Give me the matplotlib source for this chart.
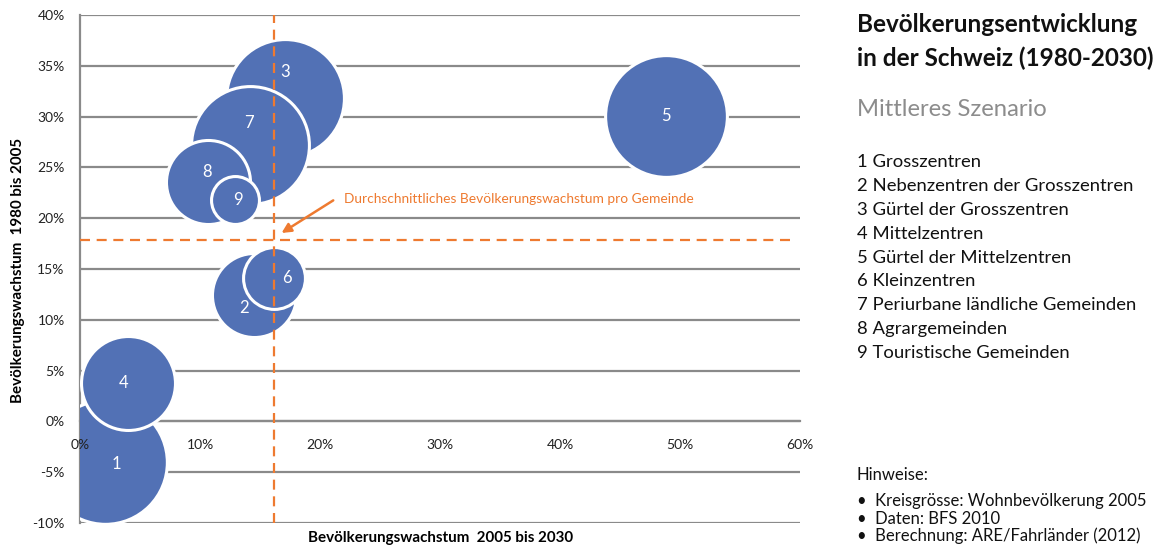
import numpy as np
import matplotlib
matplotlib.use('Agg')
import matplotlib.pyplot as plt
from matplotlib.ticker import FixedLocator, FuncFormatter

plt.rcParams['font.family'] = ['Lato', 'DejaVu Sans']

# Raumtypen (Nummer im Kreis) und Werte in Prozent
typ_nr = ['1', '2', '3', '4', '5', '6', '7', '8', '9']
typ_name = ['Grosszentren', 'Nebenzentren der Grosszentren', 'Gürtel der Grosszentren',
            'Mittelzentren', 'Gürtel der Mittelzentren', 'Kleinzentren',
            'Periurbane ländliche Gemeinden', 'Agrargemeinden', 'Touristische Gemeinden']
wachstum_2005_2030 = [2.1, 14.5, 17.1, 4.0, 48.8, 16.2, 14.2, 10.7, 12.9]
wachstum_1980_2005 = [-3.95, 12.4, 31.8, 3.8, 30.1, 14.1, 27.2, 23.6, 21.8]
# Wohnbevölkerung 2005 in Tausend (Kreisfläche)
bevoelkerung_2005 = [1300, 600, 1180, 750, 1260, 325, 1180, 600, 195]

# Durchschnitt pro Gemeinde
mittel_x = 16.15
mittel_y = 17.9

x_ticks = [0, 10, 20, 30, 40, 50, 60]
y_ticks = [-10, -5, 0, 5, 10, 15, 20, 25, 30, 35, 40]

# Verschiebung der Nummern relativ zur Kreismitte (Punkte)
label_offset = [(8, -2), (-7, -9), (0, 19), (-3, 0), (0, 0), (9, 0), (-1, 16), (-1, 7), (2, 0)]

BLAU = '#5271B5'
ORANGE = '#EE7A30'
GRAU = '#8A8A8A'

W, H = 1163, 549
fig = plt.figure(figsize=(W / 100, H / 100), dpi=100)
fig.patch.set_facecolor('white')
ax = fig.add_axes([80 / W, 1 - 523 / H, 720 / W, 508 / H])

ax.set_xlim(0, 60)
ax.set_ylim(-10, 40)

# Gitterlinien
for yv in y_ticks:
    ax.axhline(yv, color=GRAU, lw=1.6, zorder=1)

# Blasen
sizes = np.array(bevoelkerung_2005) * 6.1
for i in range(len(typ_nr)):
    ax.scatter(wachstum_2005_2030[i], wachstum_1980_2005[i], s=sizes[i],
               color=BLAU, edgecolors='white', linewidths=2.2, zorder=3 + i * 0.01)
    ax.annotate(typ_nr[i], (wachstum_2005_2030[i], wachstum_1980_2005[i]),
                xytext=label_offset[i], textcoords='offset points',
                ha='center', va='center', color='white', fontsize=12, zorder=4)

# Mittelwert-Linien
ax.axvline(mittel_x, color=ORANGE, lw=1.6, ls=(0, (4.5, 3)), zorder=5)
ax.axhline(mittel_y, color=ORANGE, lw=1.6, ls=(0, (4.5, 3)), xmax=0.993, zorder=5)

ax.annotate('', xy=(mittel_x + 0.45, mittel_y + 0.5), xytext=(21.3, 21.9),
            arrowprops=dict(arrowstyle='-|>', color=ORANGE, lw=1.8, mutation_scale=14),
            zorder=6)
ax.text(22.0, 21.9, 'Durchschnittliches Bevölkerungswachstum pro Gemeinde',
        color=ORANGE, fontsize=9.9, ha='left', va='center', zorder=6)

# Achsen
for side in ['top', 'right']:
    ax.spines[side].set_visible(False)
ax.spines['left'].set_color(GRAU)
ax.spines['left'].set_linewidth(1.6)
ax.spines['bottom'].set_position(('data', 0))
ax.spines['bottom'].set_color(GRAU)
ax.spines['bottom'].set_linewidth(1.6)

pct = FuncFormatter(lambda v, p: f'{v:.0f}%')
ax.xaxis.set_major_locator(FixedLocator(x_ticks))
ax.yaxis.set_major_locator(FixedLocator(y_ticks))
ax.xaxis.set_major_formatter(pct)
ax.yaxis.set_major_formatter(pct)
ax.tick_params(axis='x', length=0, pad=13, labelsize=10, labelcolor='#222222')
ax.tick_params(axis='y', length=0, pad=11, labelsize=10, labelcolor='#222222')
ax.xaxis.set_zorder(10)

fig.text(441 / W, 1 - 538 / H, 'Bevölkerungswachstum  2005 bis 2030', fontsize=10.9,
         fontweight='bold', ha='center', va='center')
fig.text(18 / W, 1 - 270 / H, 'Bevölkerungswachstum  1980 bis 2005', fontsize=10.9,
         fontweight='bold', ha='center', va='center', rotation=90)

# Titel und Legende rechts
tx = 857 / W
fig.text(tx, 1 - 32 / H, 'Bevölkerungsentwicklung', fontsize=17.5, fontweight='bold',
         va='baseline', color='#111111')
fig.text(tx, 1 - 66 / H, 'in der Schweiz (1980-2030)', fontsize=17.5, fontweight='bold',
         va='baseline', color='#111111')
fig.text(tx, 1 - 116 / H, 'Mittleres Szenario', fontsize=17.2, va='baseline', color='#8C8C8C')

for i in range(len(typ_nr)):
    fig.text(tx, 1 - (167 + i * 23.9) / H, f'{typ_nr[i]} {typ_name[i]}', fontsize=13.3,
             va='baseline', color='#111111')

hinweise = ['Kreisgrösse: Wohnbevölkerung 2005', 'Daten: BFS 2010',
            'Berechnung: ARE/Fahrländer (2012)']
fig.text(tx, 1 - 480 / H, 'Hinweise:', fontsize=12, va='baseline', color='#111111')
for i, h in enumerate(hinweise):
    fig.text(tx, 1 - (506 + i * 17.5) / H, '•  ' + h, fontsize=12, va='baseline',
             color='#111111')

fig.savefig('out.png', dpi=100, facecolor='white')
